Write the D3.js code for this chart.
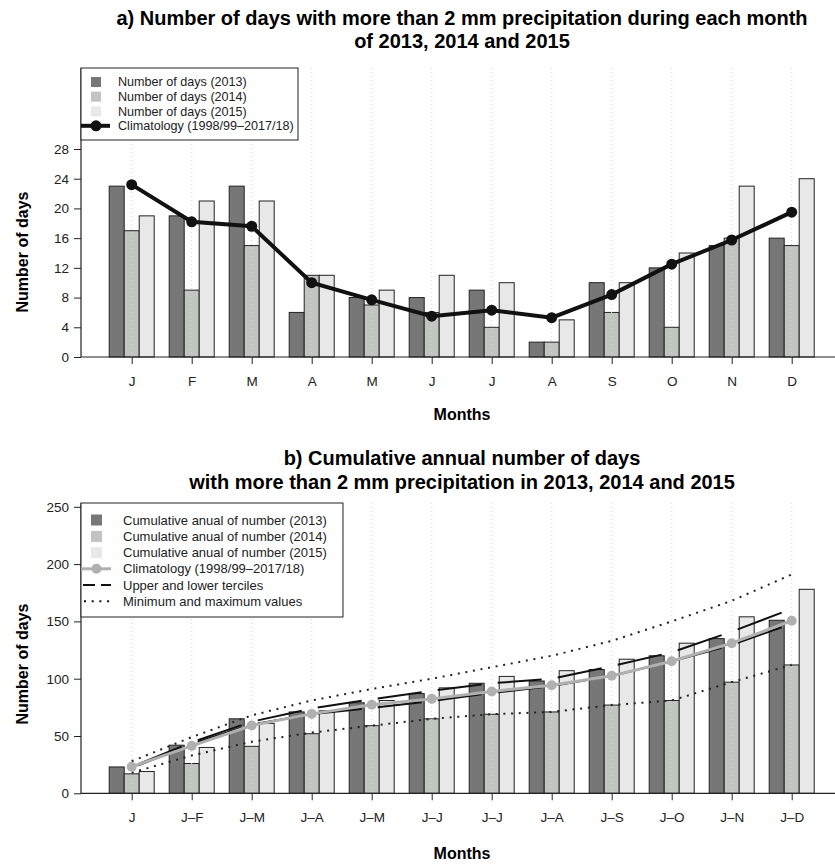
<!DOCTYPE html>
<html lang="en">
<head>
    <meta charset="UTF-8">
    <title>Days with more than 2 mm precipitation</title>
    <script src="https://d3js.org/d3.v7.min.js"></script>
    <style>
        body { margin: 0; background: #fff; }
        svg { font-family: "Liberation Sans", Arial, sans-serif; }
        .title { font-size: 20px; font-weight: bold; text-anchor: middle; }
        .axis-title { font-size: 16px; font-weight: bold; text-anchor: middle; }
        .tick text { font-size: 13.5px; fill: #222; }
        .legend text { fill: #222; }
    </style>
</head>
<body>
<svg width="835" height="864"></svg>
<script>
    // month labels
    const months = ["J", "F", "M", "A", "M", "J", "J", "A", "S", "O", "N", "D"];
    const monthsCum = ["J", "J–F", "J–M", "J–A", "J–M", "J–J", "J–J", "J–A", "J–S", "J–O", "J–N", "J–D"];
    const years = ["2013", "2014", "2015"];

    // a) monthly number of days > 2 mm
    const days2013 = [23, 19, 23, 6, 8, 8, 9, 2, 10, 12, 15, 16];
    const days2014 = [17, 9, 15, 11, 7, 6, 4, 2, 6, 4, 16, 15];
    const days2015 = [19, 21, 21, 11, 9, 11, 10, 5, 10, 14, 23, 24];
    const climMonthly = [23.2, 18.2, 17.6, 10.0, 7.7, 5.5, 6.3, 5.3, 8.4, 12.5, 15.75, 19.5];

    // b) cumulative values
    const cum2013 = [23, 42, 65, 71, 79, 87, 96, 98, 108, 120, 135, 151];
    const cum2014 = [17, 26, 41, 52, 59, 65, 69, 71, 77, 81, 97, 112];
    const cum2015 = [19, 40, 61, 72, 81, 92, 102, 107, 117, 131, 154, 178];
    const climCum = [23.2, 41.4, 59.2, 69.3, 77.2, 82.4, 88.9, 94.3, 102.5, 115.2, 131.0, 150.6];
    const tercUpper = [23, 44.5, 62.5, 74, 82, 89.5, 96, 100, 111, 123, 141, 161];
    const tercLower = [22, 43, 60, 69, 74.5, 80.5, 87.5, 93.5, 102.5, 115, 129.5, 148];
    const cumMax = [28, 49, 68, 81, 91, 100, 110, 120, 133, 150, 168, 191];
    const cumMin = [18, 33, 45, 53, 59, 65, 69, 71, 77, 81, 97, 112];

    const ticksA = [0, 4, 8, 12, 16, 20, 24, 28];
    const ticksB = [0, 50, 100, 150, 200, 250];

    const barColors = ["#777777", "#c2c4c2", "#e8e8e8"];

    const svg = d3.select("svg");

    // shared x scales
    const left = 81, right = 835;
    const x = d3.scalePoint().domain(d3.range(12)).range([131.7, 791.7]);
    const xYear = d3.scaleBand().domain(years).range([-22.5, 22.5]);

    // draws the frame, grid, bars and axes of one panel
    function drawPanel(y, top, series, labels, tickVals) {
        const g = svg.append("g");
        const y0 = y(0);

        // bars
        series.forEach((vals, k) => {
            g.selectAll(null)
                .data(vals)
                .enter().append("rect")
                .attr("x", (d, i) => x(i) + xYear(years[k]))
                .attr("y", d => y(d))
                .attr("width", xYear.bandwidth())
                .attr("height", d => y0 - y(d))
                .attr("fill", barColors[k])
                .attr("stroke", "#222")
                .attr("stroke-width", 1);
        });

        // vertical dotted grid
        g.selectAll(null)
            .data(d3.range(12))
            .enter().append("line")
            .attr("x1", d => x(d)).attr("x2", d => x(d))
            .attr("y1", top).attr("y2", y0)
            .attr("stroke", "#d4d4d4")
            .attr("stroke-width", 1)
            .attr("stroke-dasharray", "1,3");

        // y axis
        const ya = g.append("g")
            .attr("transform", `translate(${left},0)`)
            .call(d3.axisLeft(y).tickValues(tickVals).tickSize(7).tickPadding(5));
        ya.select(".domain").remove();
        ya.selectAll(".tick line").attr("stroke", "#222");

        // x axis
        const xa = g.append("g")
            .attr("transform", `translate(0,${y0})`)
            .call(d3.axisBottom(x).tickSize(7).tickPadding(12).tickFormat(i => labels[i]));
        xa.select(".domain").remove();
        xa.selectAll(".tick line").attr("stroke", "#222");

        // L-shaped frame
        g.append("path")
            .attr("d", `M${left},${top}V${y0}H${right}`)
            .attr("fill", "none")
            .attr("stroke", "#222")
            .attr("stroke-width", 1.2);
        return g;
    }

    // ---------- panel a ----------
    const yA = d3.scaleLinear().domain([0, 28]).range([357, 149]);
    const gA = drawPanel(yA, 68, [days2013, days2014, days2015], months, ticksA);

    gA.append("path")
        .datum(climMonthly)
        .attr("fill", "none")
        .attr("stroke", "#111")
        .attr("stroke-width", 4)
        .attr("d", d3.line().x((d, i) => x(i)).y(d => yA(d)));
    gA.selectAll(null)
        .data(climMonthly)
        .enter().append("circle")
        .attr("cx", (d, i) => x(i)).attr("cy", d => yA(d))
        .attr("r", 5.5).attr("fill", "#111");

    svg.append("text").attr("class", "title").attr("x", 462).attr("y", 25)
        .text("a) Number of days with more than 2 mm precipitation during each month");
    svg.append("text").attr("class", "title").attr("x", 462).attr("y", 48)
        .text("of 2013, 2014 and 2015");
    svg.append("text").attr("class", "axis-title").attr("x", 462).attr("y", 420).text("Months");
    svg.append("text").attr("class", "axis-title")
        .attr("transform", "translate(28,252) rotate(-90)").text("Number of days");

    // legend a
    const legA = svg.append("g").attr("class", "legend").style("font-size", "12.6px");
    legA.append("rect").attr("x", 81).attr("y", 68).attr("width", 217).attr("height", 72)
        .attr("fill", "#fff").attr("stroke", "#222");
    const legARows = [82, 96.7, 111.4, 125.8];
    years.forEach((yr, k) => {
        legA.append("rect").attr("x", 91).attr("y", legARows[k] - 5).attr("width", 10).attr("height", 10)
            .attr("fill", barColors[k]);
        legA.append("text").attr("x", 118).attr("y", legARows[k]).attr("dy", "0.35em")
            .text(`Number of days (${yr})`);
    });
    legA.append("line").attr("x1", 81).attr("x2", 110).attr("y1", legARows[3]).attr("y2", legARows[3])
        .attr("stroke", "#111").attr("stroke-width", 4);
    legA.append("circle").attr("cx", 96).attr("cy", legARows[3]).attr("r", 5.5).attr("fill", "#111");
    legA.append("text").attr("x", 118).attr("y", legARows[3]).attr("dy", "0.35em")
        .text("Climatology (1998/99–2017/18)");

    // ---------- panel b ----------
    const yB = d3.scaleLinear().domain([0, 250]).range([793.3, 506.8]);
    const gB = drawPanel(yB, 503, [cum2013, cum2014, cum2015], monthsCum, ticksB);

    // min / max dotted
    [cumMax, cumMin].forEach(vals => {
        gB.append("path")
            .datum(vals)
            .attr("fill", "none")
            .attr("stroke", "#222")
            .attr("stroke-width", 2)
            .attr("stroke-dasharray", "2,5.7")
            .attr("d", d3.line().x((d, i) => x(i)).y(d => yB(d)));
    });

    // terciles, broken at each month
    [tercUpper, tercLower].forEach(vals => {
        gB.selectAll(null)
            .data(d3.range(11))
            .enter().append("line")
            .attr("x1", i => x(i) + 6)
            .attr("x2", i => x(i + 1) - 10)
            .attr("y1", i => yB(vals[i] + (vals[i + 1] - vals[i]) * 0.1))
            .attr("y2", i => yB(vals[i] + (vals[i + 1] - vals[i]) * (50 / 60)))
            .attr("stroke", "#111")
            .attr("stroke-width", 2);
    });

    gB.append("path")
        .datum(climCum)
        .attr("fill", "none")
        .attr("stroke", "#b0b0b0")
        .attr("stroke-width", 3)
        .attr("d", d3.line().x((d, i) => x(i)).y(d => yB(d)));
    gB.selectAll(null)
        .data(climCum)
        .enter().append("circle")
        .attr("cx", (d, i) => x(i)).attr("cy", d => yB(d))
        .attr("r", 5).attr("fill", "#b0b0b0");

    svg.append("text").attr("class", "title").attr("x", 462).attr("y", 465)
        .text("b) Cumulative annual number of days");
    svg.append("text").attr("class", "title").attr("x", 462).attr("y", 489)
        .text("with more than 2 mm precipitation in 2013, 2014 and 2015");
    svg.append("text").attr("class", "axis-title").attr("x", 462).attr("y", 859).text("Months");
    svg.append("text").attr("class", "axis-title")
        .attr("transform", "translate(28,664) rotate(-90)").text("Number of days");

    // legend b
    const legB = svg.append("g").attr("class", "legend").style("font-size", "13px");
    legB.append("rect").attr("x", 81).attr("y", 503).attr("width", 262).attr("height", 114)
        .attr("fill", "#fff").attr("stroke", "#222");
    const legBRows = [520, 536.4, 552.6, 568.8, 585, 601.3];
    years.forEach((yr, k) => {
        legB.append("rect").attr("x", 91).attr("y", legBRows[k] - 5.5).attr("width", 11).attr("height", 11)
            .attr("fill", barColors[k]);
        legB.append("text").attr("x", 123).attr("y", legBRows[k]).attr("dy", "0.35em")
            .text(`Cumulative anual of number (${yr})`);
    });
    legB.append("line").attr("x1", 81).attr("x2", 111).attr("y1", legBRows[3]).attr("y2", legBRows[3])
        .attr("stroke", "#b0b0b0").attr("stroke-width", 3);
    legB.append("circle").attr("cx", 96.5).attr("cy", legBRows[3]).attr("r", 5).attr("fill", "#b0b0b0");
    legB.append("text").attr("x", 123).attr("y", legBRows[3]).attr("dy", "0.35em")
        .text("Climatology (1998/99–2017/18)");
    legB.append("line").attr("x1", 83).attr("x2", 111).attr("y1", legBRows[4]).attr("y2", legBRows[4])
        .attr("stroke", "#111").attr("stroke-width", 2).attr("stroke-dasharray", "12,6");
    legB.append("text").attr("x", 123).attr("y", legBRows[4]).attr("dy", "0.35em")
        .text("Upper and lower terciles");
    legB.append("line").attr("x1", 84).attr("x2", 112).attr("y1", legBRows[5]).attr("y2", legBRows[5])
        .attr("stroke", "#111").attr("stroke-width", 2).attr("stroke-dasharray", "2,5.7");
    legB.append("text").attr("x", 123).attr("y", legBRows[5]).attr("dy", "0.35em")
        .text("Minimum and maximum values");
</script>
</body>
</html>
